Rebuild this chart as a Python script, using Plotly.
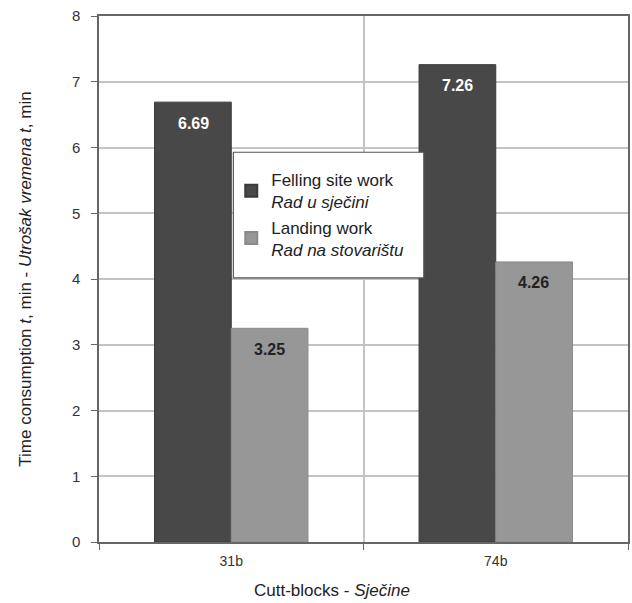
import plotly.graph_objects as go

categories = ["31b", "74b"]
felling = [6.69, 7.26]
landing = [3.25, 4.26]
felling_name = "Felling site work<br><i>Rad u sječini</i>"
landing_name = "Landing work<br><i>Rad na stovarištu</i>"

fig = go.Figure()
fig.add_trace(go.Bar(
    x=categories, y=felling, name=felling_name,
    marker=dict(color="#484848", line=dict(color="#3a3a3a", width=1)),
))
fig.add_trace(go.Bar(
    x=categories, y=landing, name=landing_name,
    marker=dict(color="#979797", line=dict(color="#8a8a8a", width=1)),
))

# value labels inside the top of each bar
label_font = dict(size=16, family="Liberation Sans, Arial", weight="bold")
annotations = []
for cat, v in zip(categories, felling):
    annotations.append(dict(x=cat, y=v, text=f"{v:.2f}", showarrow=False,
                            xshift=-38, yshift=-21, yanchor="middle",
                            font=dict(color="white", **label_font)))
for cat, v in zip(categories, landing):
    annotations.append(dict(x=cat, y=v, text=f"{v:.2f}", showarrow=False,
                            xshift=38, yshift=-21, yanchor="middle",
                            font=dict(color="#222222", **label_font)))
annotations.append(dict(
    text="Cutt-blocks - <i>Sječine</i>", xref="paper", yref="paper",
    x=0.44, y=-0.092, xanchor="center", yanchor="middle", showarrow=False,
    font=dict(size=17, color="#222222"),
))

fig.update_layout(
    width=632, height=603,
    margin=dict(l=99, r=2, t=16, b=61),
    paper_bgcolor="white", plot_bgcolor="white",
    barmode="group", bargap=0.42, bargroupgap=0,
    font=dict(family="Liberation Sans, Arial", color="#333333", size=14),
    showlegend=True,
    legend=dict(
        x=0.250, y=0.722, xanchor="left", yanchor="top",
        bgcolor="rgba(0,0,0,0)", borderwidth=0,
        font=dict(size=17, color="#222222"),
        itemsizing="constant", tracegroupgap=4, itemwidth=30,
    ),
    shapes=[dict(
        type="rect", xref="paper", yref="paper",
        x0=0.254, x1=0.614, y0=0.502, y1=0.741,
        fillcolor="white", line=dict(color="#555555", width=1.2), layer="above",
    )],
    annotations=annotations,
)
fig.update_yaxes(
    range=[0, 8], dtick=1, showgrid=True, gridcolor="#c4c4c4", gridwidth=1.5,
    showline=True, linecolor="#666666", linewidth=1.5, mirror=True,
    ticks="outside", ticklen=6, tickcolor="#666666", ticklabelstandoff=8,
    tickfont=dict(size=15, color="#333333"),
    title=dict(text="Time consumption <i>t</i>, min - <i>Utrošak vremena t</i>, min",
               font=dict(size=17, color="#222222"), standoff=36),
    zeroline=False,
)
fig.update_xaxes(
    tickson="boundaries", showgrid=True, gridcolor="#c4c4c4", gridwidth=1.5,
    showline=True, linecolor="#666666", linewidth=1.5, mirror=True,
    ticks="outside", ticklen=6, tickcolor="#666666", ticklabelstandoff=5,
    tickfont=dict(size=14, color="#333333"),
)

fig.write_html("out.html", config={"displayModeBar": False},
               post_script="document.body.style.margin='0';document.body.style.overflow='hidden';")
